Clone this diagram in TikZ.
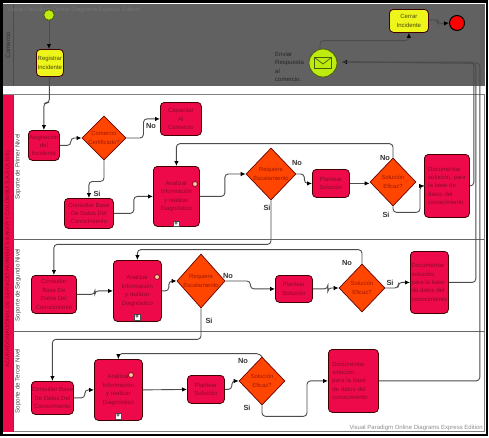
\documentclass[tikz,border=0pt]{standalone}
\usepackage{fontspec}
\setmainfont{Liberation Sans}
\usetikzlibrary{arrows.meta,shapes.geometric}
\definecolor{poolgray}{HTML}{616161}
\definecolor{lanered}{HTML}{EE0A4A}
\definecolor{redtxt}{HTML}{8A0A2A}
\definecolor{dmd}{HTML}{FF4500}
\definecolor{dmdtxt}{HTML}{A01808}
\definecolor{yel}{HTML}{EEF51A}
\definecolor{lime}{HTML}{BDEB10}
\definecolor{wmtop}{HTML}{747474}
\tikzset{
  x=1pt,y=-1pt,
  taskbox/.style={draw=black!75!red,line width=.8pt,rounded corners=4pt,fill=lanered,text=redtxt,font=\fontsize{6}{8.4}\selectfont,align=center,inner sep=0pt,anchor=north west},
  yelbox/.style={taskbox,fill=yel,text=black!70!yel},
  gate/.style={diamond,draw=black!60!red,line width=.7pt,fill=dmd,text=dmdtxt,font=\fontsize{5.9}{8.4}\selectfont,align=center,inner sep=0pt,aspect=1},
  flow/.style={draw=black!70,line width=.9pt,rounded corners=3.5pt,-{Latex[length=5pt,width=4.5pt,black]}},
  plainflow/.style={draw=black!70,line width=.9pt,rounded corners=3.5pt},
  lbl/.style={font=\bfseries\fontsize{7.4}{8}\selectfont,text=black!80,inner sep=0pt},
  lanelbl/.style={rotate=90,font=\fontsize{6.2}{8}\selectfont,text=black!70,inner sep=0pt},
  marker/.style={circle,draw=redtxt,fill=orange!40!white,minimum size=5pt,inner sep=0pt,line width=.8pt},
  plusbox/.style={draw=black!70,fill=white,minimum size=5.5pt,inner sep=0pt,line width=.4pt,font=\fontsize{6}{5}\bfseries\selectfont,text=black}
}
\begin{document}
\begin{tikzpicture}
\useasboundingbox (0,0) rectangle (489,437);
\fill[white] (0,0) rectangle (489,437);
% top pool
\fill[poolgray] (3,4) rectangle (484.5,86);
\draw[black!70,line width=.8pt] (13,4) -- (13,86);
\node[inner sep=0pt,anchor=west,font=\fontsize{6}{8}\selectfont,text=wmtop] (wm1) at (7,9.5) {Visual Paradigm Online Diagrams Express Edition};
\node[lanelbl,text=black!80] (comerciolbl) at (8,45) {Comercio};
% lower pool
\draw[black!50,line width=.7pt] (3,94.5) rectangle (484,431);
\fill[lanered] (3,95) rectangle (13,432);
\draw[black!70,line width=.7pt] (13,95) -- (13,432);
\draw[black!60,line width=.8pt] (13,239.5) -- (484,239.5);
\draw[black!60,line width=.8pt] (13,331) -- (484,331);
\node[rotate=90,font=\fontsize{5.5}{8}\selectfont,text=redtxt,inner sep=0pt] (poollbl) at (8,259) {ACUERDO NACIONAL DE SERVICIO  PAYMENTS BAKER Y COLOMBIA S.A.S (A.N.S)};
\node[lanelbl] (l1) at (18,167) {Soporte de Primer Nivel};
\node[lanelbl] (l2) at (18,285) {Soporte de Segundo Nivel};
\node[lanelbl] (l3) at (18,381) {Soporte de Tercer Nivel};
% frame
\draw[black,line width=2.4pt] (1.5,1.5) rectangle (487,435);
% top pool nodes
\node[circle,draw=black!60!lime,fill=lime,line width=.8pt,minimum size=10.5pt,inner sep=0pt] (start) at (49,15) {};
\node[yelbox,minimum width=27pt,minimum height=27pt] (reg) at (36,49) {Registrar\\Incidente};
\node[yelbox,minimum width=39pt,minimum height=23pt] (cerrar) at (389,9) {Cerrar\\Incidente};
\node[circle,draw=black,fill=red,line width=1pt,minimum size=15pt,inner sep=0pt] (fin) at (457,23) {};
\node[circle,draw=black!60!lime,fill=lime,line width=.8pt,minimum size=28pt,inner sep=0pt] (envia) at (323,63) {};
\draw[black!60!lime,line width=.7pt] (314.5,57.5) rectangle (331.5,68.5) (314.5,57.5) -- (323,64) -- (331.5,57.5);
\node[anchor=west,align=left,inner sep=0pt,font=\fontsize{6}{8.4}\selectfont,text=black!85] (envtxt) at (275,67) {Enviar\\Respuesta\\al\\comercio.};
\coordinate (enviain) at (342,62);
% lane 1
\node[taskbox,minimum width=31pt,minimum height=30pt] (asig) at (28,130) {Asignación\\del\\Incidente};
\node[gate,minimum width=43pt,minimum height=43pt] (cert) at (104,138) {Comercio\\Certificado?};
\node[taskbox,minimum width=41pt,minimum height=33pt] (cap) at (160,102) {Capacitar\\Al\\Comercio};
\node[taskbox,minimum width=49pt,minimum height=30pt] (cons1) at (64,198) {Consultar Base\\De Datos Del\\Conocimiento};
\node[taskbox,minimum width=46pt,minimum height=60pt] (ana1) at (153,166) {Analizar\\Información\\y realizar\\Diagnóstico};
\node[marker] (m1) at (195,184) {};
\node[plusbox] (p1) at (176,223.5) {+};
\node[gate,minimum width=50pt,minimum height=52pt] (esc1) at (271,174) {Requiere\\Escalamiento};
\node[taskbox,minimum width=37pt,minimum height=28pt] (pl1) at (312,169) {Plantear\\Solución};
\node[gate,minimum width=46pt,minimum height=48pt] (sol1) at (393,182) {Solución\\Eficaz?};
\node[taskbox,minimum width=45pt,minimum height=63pt,align=left] (doc1) at (424,154) {Documentar\\solución, para\\la base de\\datos del\\conocimiento};
% lane 2
\node[taskbox,minimum width=45pt,minimum height=38pt] (cons2) at (31,275) {Consultar\\Base De\\Datos Del\\Conocimiento};
\node[taskbox,minimum width=48pt,minimum height=61pt] (ana2) at (113,260) {Analizar\\Información\\y realizar\\Diagnóstico};
\node[marker] (m2) at (157,277) {};
\node[plusbox] (p2) at (137,317) {+};
\node[gate,minimum width=48pt,minimum height=54pt] (esc2) at (201,281) {Requiere\\Escalamiento};
\node[taskbox,minimum width=37pt,minimum height=27pt] (pl2) at (275,275) {Plantear\\Solución};
\node[gate,minimum width=46pt,minimum height=48pt] (sol2) at (362,288) {Solución\\Eficaz?};
\node[taskbox,minimum width=38pt,minimum height=62pt,align=left] (doc2) at (410,251) {Documentar\\solución,\\para la base\\de datos del\\conocimiento};
% lane 3
\node[taskbox,minimum width=42pt,minimum height=33pt] (cons3) at (31,381) {Consultar Base\\De Datos Del\\Conocimiento};
\node[taskbox,minimum width=48pt,minimum height=61pt] (ana3) at (94,359) {Analizar\\Información\\y realizar\\Diagnóstico};
\node[marker] (m3) at (131,375) {};
\node[plusbox] (p3) at (118,416) {+};
\node[taskbox,minimum width=37pt,minimum height=28pt] (pl3) at (187,375) {Plantear\\Solución};
\node[gate,minimum width=46pt,minimum height=48pt] (sol3) at (262,381) {Solución\\Eficaz?};
\node[taskbox,minimum width=50pt,minimum height=63pt,align=left,text width=42pt] (doc3) at (328,349) {Documentar\\solución,\\para la base\\de datos del\\conocimiento};
% connectors
\draw[flow] (start) -- (start|-reg.north);
\draw[flow] (reg.south) ++(-0.5,0) -- ++(0,26) -| (asig.north);
\draw[flow] (asig.east) -- ++(11,0) |- (cert.west);
\draw[flow] (cert.east) -- ++(17,0) |- (cap.west);
\draw[flow] (cert.south) -- ++(0,21) -| (cons1.north);
\draw[flow] (cons1.east) -- ++(20,0) |- (ana1.west);
\draw[flow] (ana1.east) -- ++(25,0) |- (esc1.west);
\draw[flow] (esc1.east) -- ++(8,0) |- (pl1.west);
\draw[flow] (pl1.east) -- (pl1.east-|sol1.west);
\draw[flow] (sol1.north) |- ++(-100,-14) -| (ana1.north);
\draw[flow] (sol1.south) -- ++(0,6) -- ++(27,0) |- (doc1.west);
\draw[flow] (doc1.east) -- ++(4,0) |- (enviain);
\draw[flow] (envia.north) ++(-3,0) -- ++(0,-8) -| (cerrar.south);
\draw[flow] (cerrar.east) ++(0,-1) -- ++(9,0) -- ++(0,4) -- (fin.west);
\draw[flow] (esc1.south) -- ++(0,44) -| (cons2.north);
\draw[flow] (cons2.east) -- ++(18,0) |- (ana2.west);
\draw[flow] (ana2.east) -- ++(7,0) |- (esc2.west);
\draw[flow] (esc2.east) -- ++(25,0) |- (pl2.west);
\draw[flow] (pl2.east) -- ++(15,0) |- (sol2.west);
\draw[flow] (sol2.north) |- ++(-100,-14) -| (ana2.north);
\draw[flow] (sol2.east) -- ++(13,0) |- (doc2.west);
\draw[plainflow] (doc2.east) -- ++(27,0) -- ++(0,-219) -- (enviain);
\draw[flow] (esc2.south) -- ++(0,31) -| (cons3.north);
\draw[flow] (cons3.east) -- ++(11,0) |- (ana3.west);
\draw[flow] (ana3.east) -- (pl3.west);
\draw[flow] (pl3.east) -- ++(7,0) |- (sol3.west);
\draw[flow] (sol3.north) -- ++(-2,-3) -| (ana3.north);
\draw[flow] (sol3.south) -- ++(0,11) -- ++(45,0) |- (doc3.west);
\draw[plainflow] (doc3.east) -- ++(101,0) -- ++(0,-318) -- (enviain);
% labels
\node[lbl] (no1) at (151,125.5) {No};
\node[lbl] (si1) at (97,193.5) {Si};
\node[lbl] (no2) at (297,162.5) {No};
\node[lbl] (no3) at (385,157.5) {No};
\node[lbl] (si2) at (267,208) {Si};
\node[lbl] (si3) at (386,214.5) {Si};
\node[lbl] (no4) at (228,275.5) {No};
\node[lbl] (no5) at (347,263) {No};
\node[lbl] (si4) at (390,283) {Si};
\node[lbl] (si5) at (209,320.5) {Si};
\node[lbl] (no6) at (243,361) {No};
\node[lbl] (si6) at (247,408) {Si};
\node[anchor=east,inner sep=0pt,font=\fontsize{6}{8}\selectfont,text=black!45] (wm2) at (483,427.5) {Visual Paradigm Online Diagrams Express Edition};
\end{tikzpicture}
\end{document}
